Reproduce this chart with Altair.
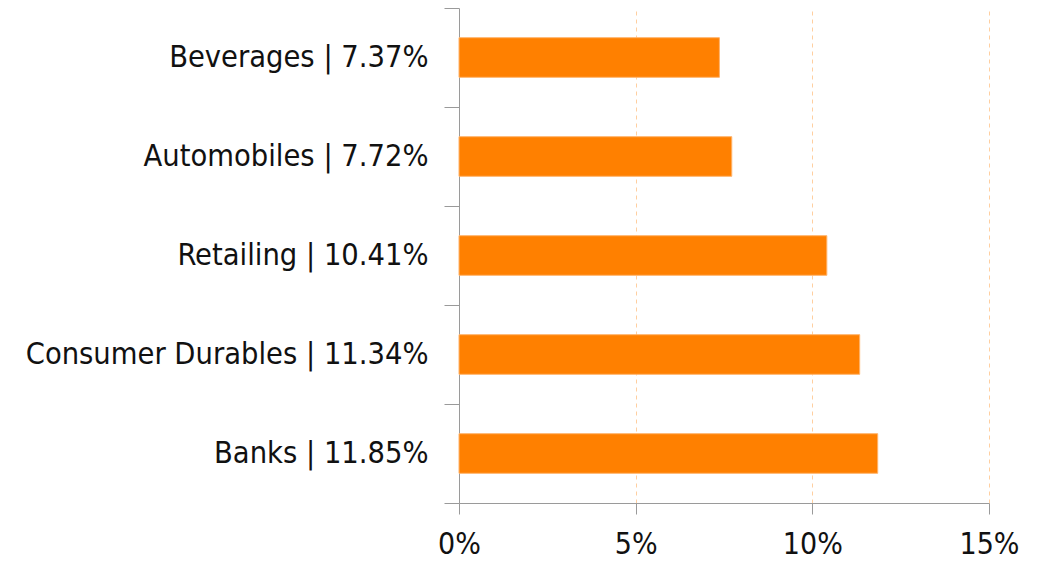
import altair as alt
import pandas as pd

categories = ["Beverages", "Automobiles", "Retailing", "Consumer Durables", "Banks"]
values = [7.37, 7.72, 10.41, 11.34, 11.85]
x_ticks = [0, 5, 10, 15]

labels = [f"{c} | {v:.2f}%" for c, v in zip(categories, values)]
df = pd.DataFrame({"label": labels, "value": values})

FONT = "DejaVu Sans Condensed"

chart = alt.Chart(df).mark_bar(color="#FF8000", stroke="#FFB36B", strokeWidth=1,
                               height={"band": 0.4}).encode(
    x=alt.X("value:Q",
            scale=alt.Scale(domain=[0, 15], nice=False),
            axis=alt.Axis(values=x_ticks, labelExpr="datum.value + '%'", title=None,
                          grid=True, gridColor="#FFCFA0", gridDash=[4, 4], gridWidth=1,
                          domainColor="#9A9A9A", tickColor="#9A9A9A", tickSize=11,
                          labelFontSize=30, labelColor="#111111", labelPadding=15,
                          labelFont=FONT, labelFlush=False)),
    y=alt.Y("label:N", sort=labels,
            scale=alt.Scale(paddingInner=0, paddingOuter=0),
            axis=alt.Axis(title=None, tickBand="extent", tickSize=15,
                          domainColor="#9A9A9A", tickColor="#9A9A9A",
                          labelFontSize=30.5, labelColor="#111111", labelPadding=16,
                          labelFont=FONT, labelLimit=500)),
).properties(
    width=530, height=495,
    autosize=alt.AutoSizeParams(type="none"),
    padding={"left": 451, "top": 0, "right": 50, "bottom": 58},
).configure_view(stroke=None)

chart.save("out.html", embed_options={"renderer": "svg", "actions": False})
